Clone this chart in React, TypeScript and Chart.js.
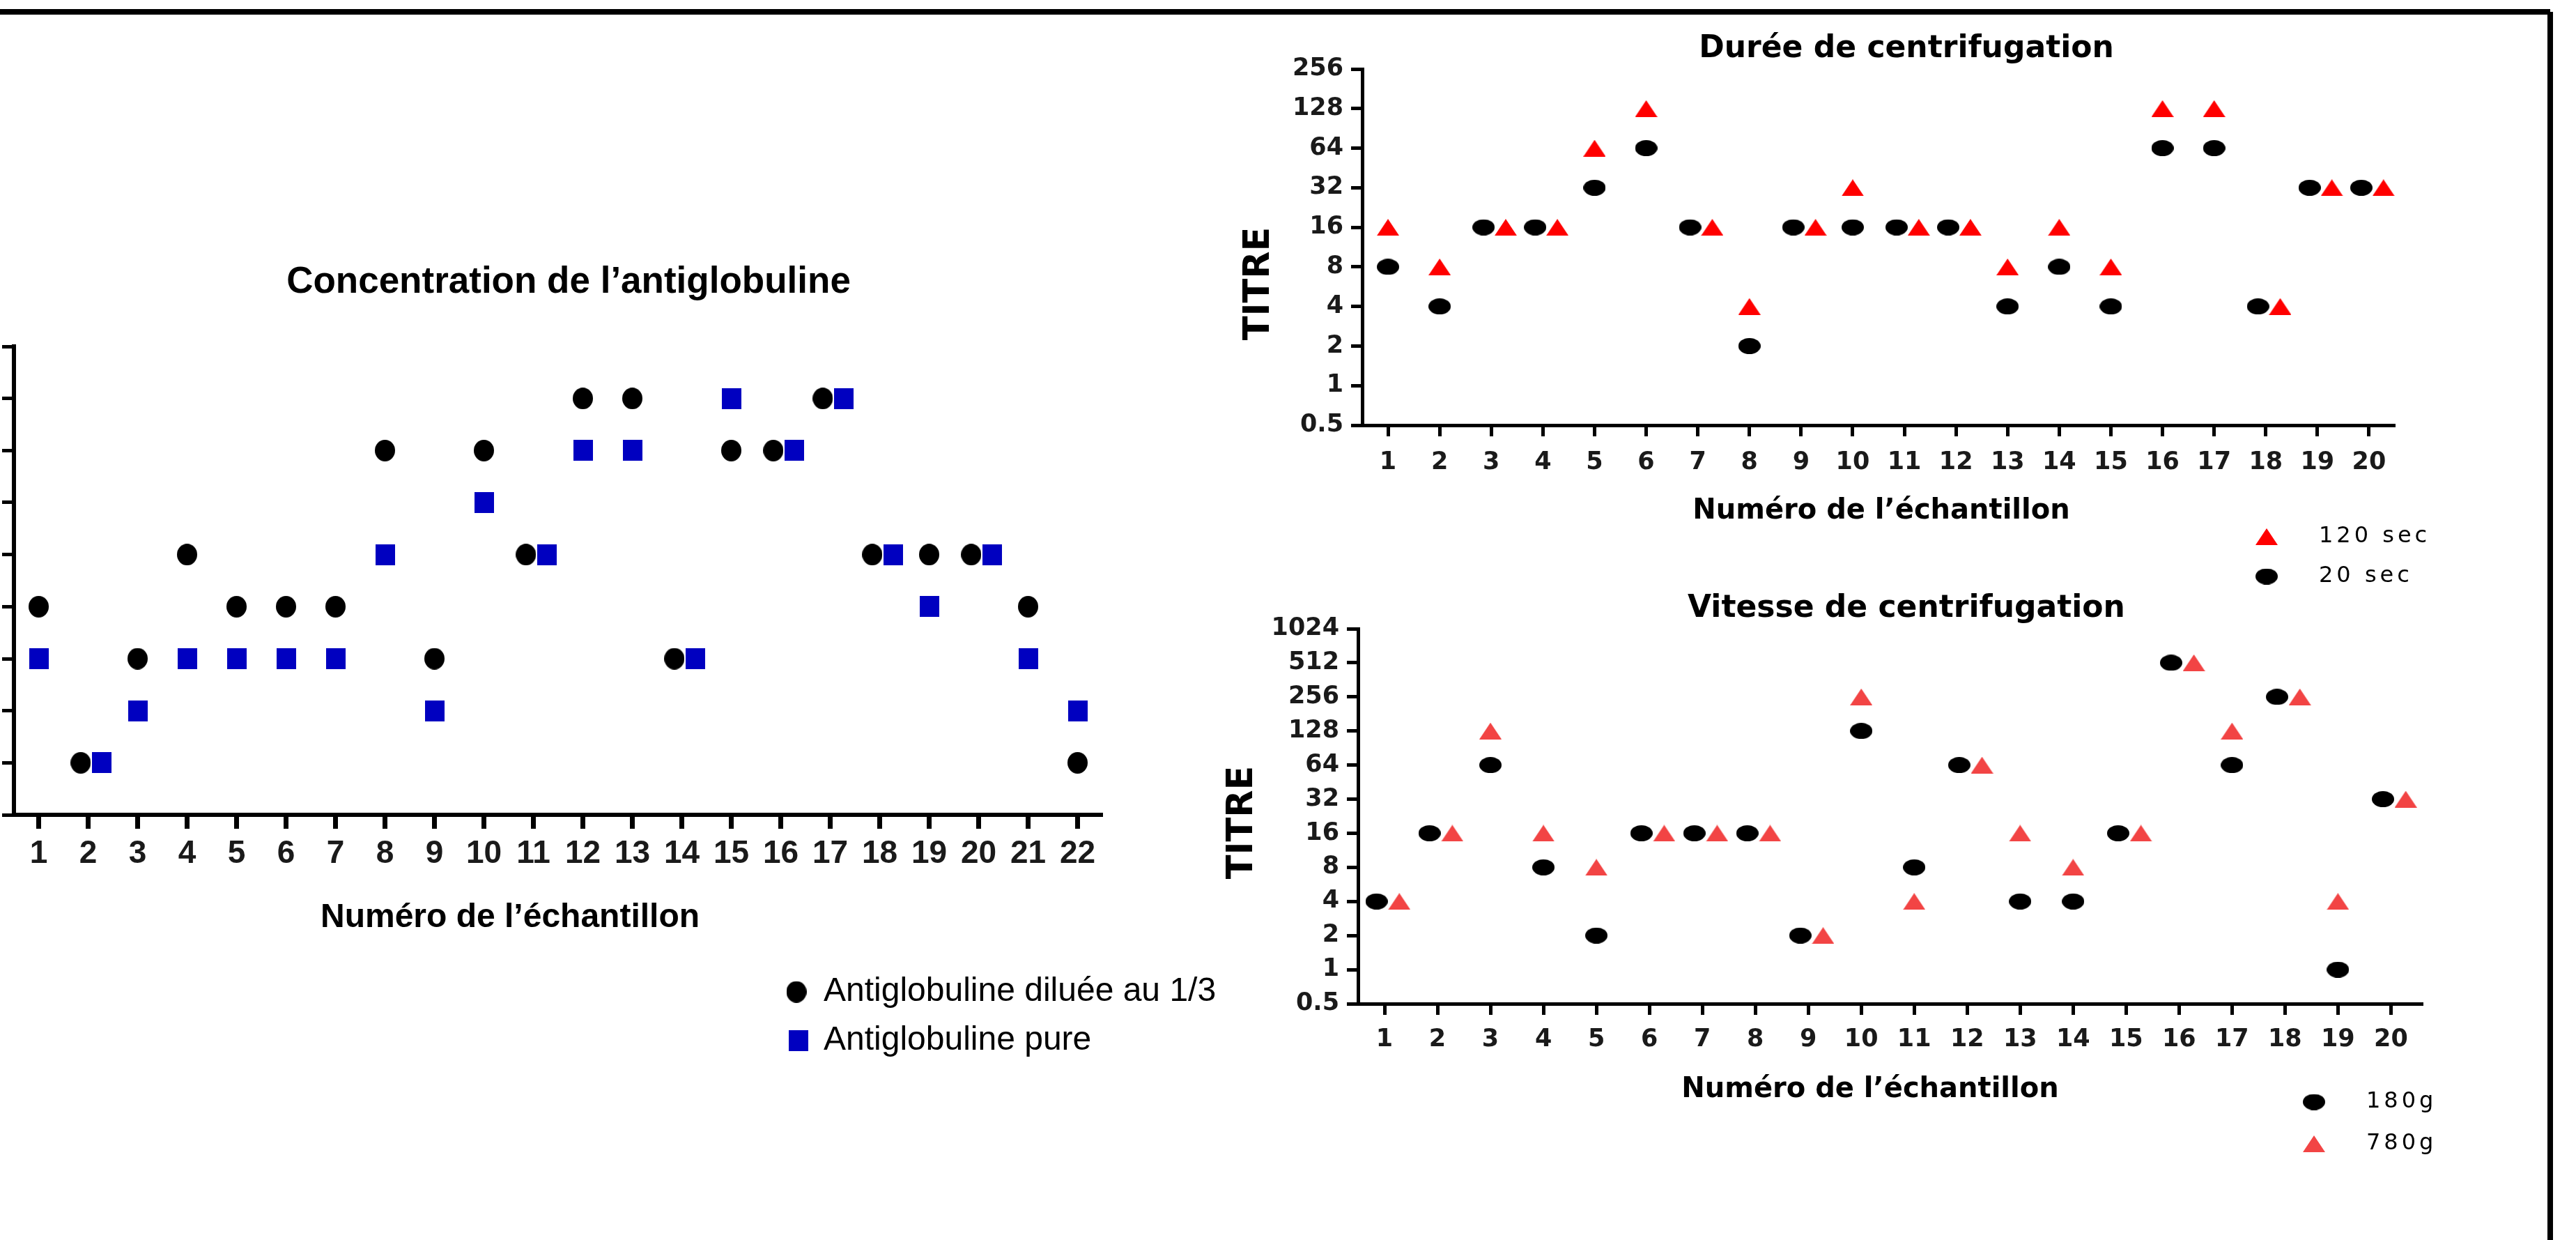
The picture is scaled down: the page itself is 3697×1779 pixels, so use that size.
import React, { useEffect, useRef } from 'react';
import { Chart, registerables } from 'chart.js';

Chart.register(...registerables);

// ---------------- data ----------------
const antiglobulineCategories = [1, 2, 3, 4, 5, 6, 7, 8, 9, 10, 11, 12, 13, 14, 15, 16, 17, 18, 19, 20, 21, 22];
const antiglobulineDiluee = [8, 1, 4, 16, 8, 8, 8, 64, 4, 64, 16, 128, 128, 4, 64, 64, 128, 16, 16, 16, 8, 1];
const antiglobulinePure = [4, 1, 2, 4, 4, 4, 4, 16, 2, 32, 16, 64, 64, 4, 128, 64, 128, 16, 8, 16, 4, 2];
const antiglobulineTicks = [0.5, 1, 2, 4, 8, 16, 32, 64, 128, 256];

const dureeCategories = [1, 2, 3, 4, 5, 6, 7, 8, 9, 10, 11, 12, 13, 14, 15, 16, 17, 18, 19, 20];
const duree120sec = [16, 8, 16, 16, 64, 128, 16, 4, 16, 32, 16, 16, 8, 16, 8, 128, 128, 4, 32, 32];
const duree20sec = [8, 4, 16, 16, 32, 64, 16, 2, 16, 16, 16, 16, 4, 8, 4, 64, 64, 4, 32, 32];
const dureeTicks = [0.5, 1, 2, 4, 8, 16, 32, 64, 128, 256];

const vitesseCategories = [1, 2, 3, 4, 5, 6, 7, 8, 9, 10, 11, 12, 13, 14, 15, 16, 17, 18, 19, 20];
const vitesse180g = [4, 16, 64, 8, 2, 16, 16, 16, 2, 128, 8, 64, 4, 4, 16, 512, 64, 256, 1, 32];
const vitesse780g = [4, 16, 128, 16, 8, 16, 16, 16, 2, 256, 4, 64, 16, 8, 16, 512, 128, 256, 4, 32];
const vitesseTicks = [0.5, 1, 2, 4, 8, 16, 32, 64, 128, 256, 512, 1024];

const TITLE_ANTIGLOBULINE = 'Concentration de l\u2019antiglobuline';
const TITLE_DUREE = 'Durée de centrifugation';
const TITLE_VITESSE = 'Vitesse de centrifugation';
const X_TITLE = 'Numéro de l\u2019échantillon';
const Y_TITLE = 'TITRE';

const LABEL_DILUEE = 'Antiglobuline diluée au 1/3';
const LABEL_PURE = 'Antiglobuline pure';
const LABEL_120 = '120 sec';
const LABEL_20 = '20 sec';
const LABEL_180G = '180g';
const LABEL_780G = '780g';

// horizontal nudge applied when both series share the same value
const SHIFT_LEFT = -0.15;
const SHIFT_RIGHT = 0.28;

// ---------------- styles ----------------
const ARIAL = "'Liberation Sans', Arial, sans-serif";
const DEJAVU = "'DejaVu Sans', Verdana, sans-serif";

type Marker = { shape: 'ellipse' | 'rect' | 'triangle'; w: number; h: number; color: string };

function makeMarker(m: Marker): HTMLCanvasElement {
  const c = document.createElement('canvas');
  c.width = m.w;
  c.height = m.h;
  const g = c.getContext('2d')!;
  g.fillStyle = m.color;
  g.beginPath();
  if (m.shape === 'ellipse') g.ellipse(m.w / 2, m.h / 2, m.w / 2, m.h / 2, 0, 0, Math.PI * 2);
  else if (m.shape === 'triangle') {
    g.moveTo(m.w / 2, 0);
    g.lineTo(m.w, m.h);
    g.lineTo(0, m.h);
    g.closePath();
  } else g.rect(0, 0, m.w, m.h);
  g.fill();
  return c;
}

type TextItem = {
  text: string; x: number; y: number; family: string; size: number; weight?: string;
  rotation?: number; align?: CanvasTextAlign; color?: string;
};

type Spec = {
  canvas: { left: number; top: number; width: number; height: number };
  area: { left: number; right: number; top: number; bottom: number };
  xRange: [number, number];
  categories: number[];
  yTicks: number[];
  series: { label: string; values: number[]; marker: Marker; shift: number }[];
  title: { text: string; family: string; size: number; lineHeight: number; centerY: number };
  tickFont: { family: string; size: number };
  xTick: { length: number; width: number; padding: number };
  yTick: { length: number; width: number; padding: number };
  axisWidth: number;
  texts: TextItem[];
  legend: { font: { family: string; size: number; spacing: number }; items: { dataset: number; x: number; y: number; textX: number }[] };
};

function buildConfig(spec: Spec): any {
  const { canvas, area } = spec;
  const lineH = spec.title.size * spec.title.lineHeight;
  const titleTop = spec.title.centerY - canvas.top - lineH / 2;
  const titleBottom = area.top - canvas.top - titleTop - lineH;
  const yAxisWidth = area.left - canvas.left;
  const padAxisWidth = canvas.left + canvas.width - area.right;
  const X_AXIS_HEIGHT = 100;
  const bottomPad = canvas.top + canvas.height - area.bottom - X_AXIS_HEIGHT;

  const datasets = spec.series.map((s, i) => {
    const other = spec.series[1 - i];
    return {
      label: s.label,
      data: spec.categories.map((c, k) => ({
        x: c + (s.values[k] === other.values[k] ? s.shift : 0),
        y: s.values[k],
      })),
      pointStyle: makeMarker(s.marker),
      pointRadius: 12,
      pointHoverRadius: 12,
      backgroundColor: s.marker.color,
      borderColor: s.marker.color,
      showLine: false,
      clip: false,
    };
  });

  const tickFont = { family: spec.tickFont.family, size: spec.tickFont.size, weight: 'bold' as const };

  const textPlugin = {
    id: 'freeText',
    afterDraw(chart: any) {
      const ctx = chart.ctx as CanvasRenderingContext2D;
      spec.texts.forEach((t) => {
        ctx.save();
        ctx.font = `${t.weight || 'normal'} ${t.size}px ${t.family}`;
        ctx.fillStyle = t.color || '#000';
        ctx.textAlign = t.align || 'center';
        ctx.textBaseline = 'middle';
        ctx.translate(t.x - canvas.left, t.y - canvas.top);
        if (t.rotation) ctx.rotate(t.rotation);
        ctx.fillText(t.text, 0, 0);
        ctx.restore();
      });
    },
  };

  const legendPlugin = {
    id: 'markerLegend',
    afterDraw(chart: any) {
      const ctx = chart.ctx as CanvasRenderingContext2D;
      const f = spec.legend.font;
      spec.legend.items.forEach((it) => {
        const ds = chart.data.datasets[it.dataset];
        const img = ds.pointStyle as HTMLCanvasElement;
        ctx.save();
        ctx.drawImage(img, it.x - canvas.left - img.width / 2, it.y - canvas.top - img.height / 2);
        ctx.font = `normal ${f.size}px ${f.family}`;
        (ctx as any).letterSpacing = `${f.spacing}px`;
        ctx.fillStyle = '#000';
        ctx.textAlign = 'left';
        ctx.textBaseline = 'middle';
        ctx.fillText(ds.label, it.textX - canvas.left, it.y - canvas.top);
        ctx.restore();
      });
    },
  };

  return {
    type: 'scatter',
    data: { datasets },
    plugins: [textPlugin, legendPlugin],
    options: {
      responsive: false,
      animation: false,
      devicePixelRatio: 1,
      events: [],
      layout: { padding: { left: 0, right: 0, top: 0, bottom: bottomPad } },
      plugins: {
        legend: { display: false },
        tooltip: { enabled: false },
        title: {
          display: true,
          text: spec.title.text,
          color: '#000',
          font: { family: spec.title.family, size: spec.title.size, weight: 'bold', lineHeight: spec.title.lineHeight },
          padding: { top: titleTop, bottom: titleBottom },
        },
      },
      scales: {
        x: {
          type: 'linear',
          position: 'bottom',
          min: spec.xRange[0],
          max: spec.xRange[1],
          afterBuildTicks: (s: any) => {
            s.ticks = spec.categories.map((v) => ({ value: v }));
          },
          afterFit: (s: any) => {
            s.height = X_AXIS_HEIGHT;
          },
          grid: {
            display: true, drawOnChartArea: false, drawTicks: true,
            tickLength: spec.xTick.length, tickWidth: spec.xTick.width, color: '#000', tickColor: '#000',
          },
          border: { display: true, color: '#000', width: spec.axisWidth },
          ticks: {
            autoSkip: false, maxRotation: 0, minRotation: 0, padding: spec.xTick.padding,
            color: '#1a1a1a', font: tickFont, callback: (v: any) => String(v),
          },
        },
        y: {
          type: 'logarithmic',
          position: 'left',
          min: spec.yTicks[0],
          max: spec.yTicks[spec.yTicks.length - 1],
          afterBuildTicks: (s: any) => {
            s.ticks = spec.yTicks.map((v) => ({ value: v }));
          },
          afterFit: (s: any) => {
            s.width = yAxisWidth;
          },
          grid: {
            display: true, drawOnChartArea: false, drawTicks: true,
            tickLength: spec.yTick.length, tickWidth: spec.yTick.width, color: '#000', tickColor: '#000',
          },
          border: { display: true, color: '#000', width: spec.axisWidth },
          ticks: {
            autoSkip: false, padding: spec.yTick.padding, color: '#1a1a1a', font: tickFont,
            callback: (v: any) => String(v),
          },
        },
        pad: {
          type: 'linear',
          position: 'right',
          display: true,
          grid: { display: false },
          border: { display: false },
          ticks: { display: false },
          afterFit: (s: any) => {
            s.width = padAxisWidth;
          },
        },
      },
    },
  };
}

// ---------------- panel specs ----------------
const leftSpec: Spec = {
  canvas: { left: -130, top: 300, width: 1892, height: 1260 },
  area: { left: 20, right: 1582, top: 497, bottom: 1169 },
  xRange: [0.5, 22.5],
  categories: antiglobulineCategories,
  yTicks: antiglobulineTicks,
  series: [
    { label: LABEL_DILUEE, values: antiglobulineDiluee, marker: { shape: 'ellipse', w: 29, h: 31, color: '#000000' }, shift: SHIFT_LEFT },
    { label: LABEL_PURE, values: antiglobulinePure, marker: { shape: 'rect', w: 28, h: 30, color: '#0000C0' }, shift: SHIFT_RIGHT },
  ],
  title: { text: TITLE_ANTIGLOBULINE, family: ARIAL, size: 53, lineHeight: 1.2, centerY: 405 },
  tickFont: { family: ARIAL, size: 46 },
  xTick: { length: 20, width: 7, padding: 9 },
  yTick: { length: 17, width: 5, padding: 14 },
  axisWidth: 6,
  texts: [{ text: X_TITLE, x: 732, y: 1317, family: ARIAL, size: 48, weight: 'bold' }],
  legend: {
    font: { family: ARIAL, size: 48, spacing: 0 },
    items: [
      { dataset: 0, x: 1143, y: 1423, textX: 1182 },
      { dataset: 1, x: 1146, y: 1493, textX: 1182 },
    ],
  },
};

const dureeSpec: Spec = {
  canvas: { left: 1745, top: 25, width: 1982, height: 835 },
  area: { left: 1955, right: 3437, top: 99, bottom: 610 },
  xRange: [0.5, 20.5],
  categories: dureeCategories,
  yTicks: dureeTicks,
  series: [
    { label: LABEL_120, values: duree120sec, marker: { shape: 'triangle', w: 32, h: 24, color: '#FF0000' }, shift: SHIFT_RIGHT },
    { label: LABEL_20, values: duree20sec, marker: { shape: 'ellipse', w: 32, h: 23, color: '#000000' }, shift: SHIFT_LEFT },
  ],
  title: { text: TITLE_DUREE, family: DEJAVU, size: 44, lineHeight: 1.0, centerY: 71 },
  tickFont: { family: DEJAVU, size: 35 },
  xTick: { length: 16, width: 5, padding: 17 },
  yTick: { length: 16, width: 5, padding: 11 },
  axisWidth: 5,
  texts: [
    { text: Y_TITLE, x: 1808, y: 407, family: DEJAVU, size: 51, weight: 'bold', rotation: -Math.PI / 2 },
    { text: X_TITLE, x: 2700, y: 734, family: DEJAVU, size: 40, weight: 'bold' },
  ],
  legend: {
    font: { family: DEJAVU, size: 32, spacing: 5 },
    items: [
      { dataset: 0, x: 3253, y: 770, textX: 3328 },
      { dataset: 1, x: 3253, y: 827, textX: 3328 },
    ],
  },
};

const vitesseSpec: Spec = {
  canvas: { left: 1740, top: 825, width: 1992, height: 875 },
  area: { left: 1949, right: 3477, top: 902, bottom: 1440 },
  xRange: [0.5, 20.6],
  categories: vitesseCategories,
  yTicks: vitesseTicks,
  series: [
    { label: LABEL_180G, values: vitesse180g, marker: { shape: 'ellipse', w: 32, h: 23, color: '#000000' }, shift: SHIFT_LEFT },
    { label: LABEL_780G, values: vitesse780g, marker: { shape: 'triangle', w: 32, h: 24, color: '#F24444' }, shift: SHIFT_RIGHT },
  ],
  title: { text: TITLE_VITESSE, family: DEJAVU, size: 44, lineHeight: 1.0, centerY: 874 },
  tickFont: { family: DEJAVU, size: 35 },
  xTick: { length: 16, width: 5, padding: 15 },
  yTick: { length: 16, width: 5, padding: 11 },
  axisWidth: 5,
  texts: [
    { text: Y_TITLE, x: 1784, y: 1180, family: DEJAVU, size: 51, weight: 'bold', rotation: -Math.PI / 2 },
    { text: X_TITLE, x: 2684, y: 1564, family: DEJAVU, size: 40, weight: 'bold' },
  ],
  legend: {
    font: { family: DEJAVU, size: 32, spacing: 5 },
    items: [
      { dataset: 0, x: 3321, y: 1581, textX: 3396 },
      { dataset: 1, x: 3321, y: 1641, textX: 3396 },
    ],
  },
};

function Panel({ spec }: { spec: Spec }) {
  const ref = useRef<HTMLCanvasElement>(null);
  useEffect(() => {
    if (!ref.current) return;
    const chart = new Chart(ref.current, buildConfig(spec));
    return () => chart.destroy();
  }, [spec]);
  return (
    <canvas
      ref={ref}
      width={spec.canvas.width}
      height={spec.canvas.height}
      style={{ position: 'absolute', left: spec.canvas.left, top: spec.canvas.top, width: spec.canvas.width, height: spec.canvas.height }}
    />
  );
}

export default function App() {
  return (
    <div style={{ position: 'absolute', left: 0, top: 0, width: 3697, height: 1779, overflow: 'hidden', background: '#fff' }}>
      <Panel spec={leftSpec} />
      <Panel spec={dureeSpec} />
      <Panel spec={vitesseSpec} />
      <div style={{ position: 'absolute', left: 0, top: 13, width: 3660, height: 8, background: '#000' }} />
      <div style={{ position: 'absolute', left: 3656, top: 17, width: 8, height: 1762, background: '#000' }} />
    </div>
  );
}
